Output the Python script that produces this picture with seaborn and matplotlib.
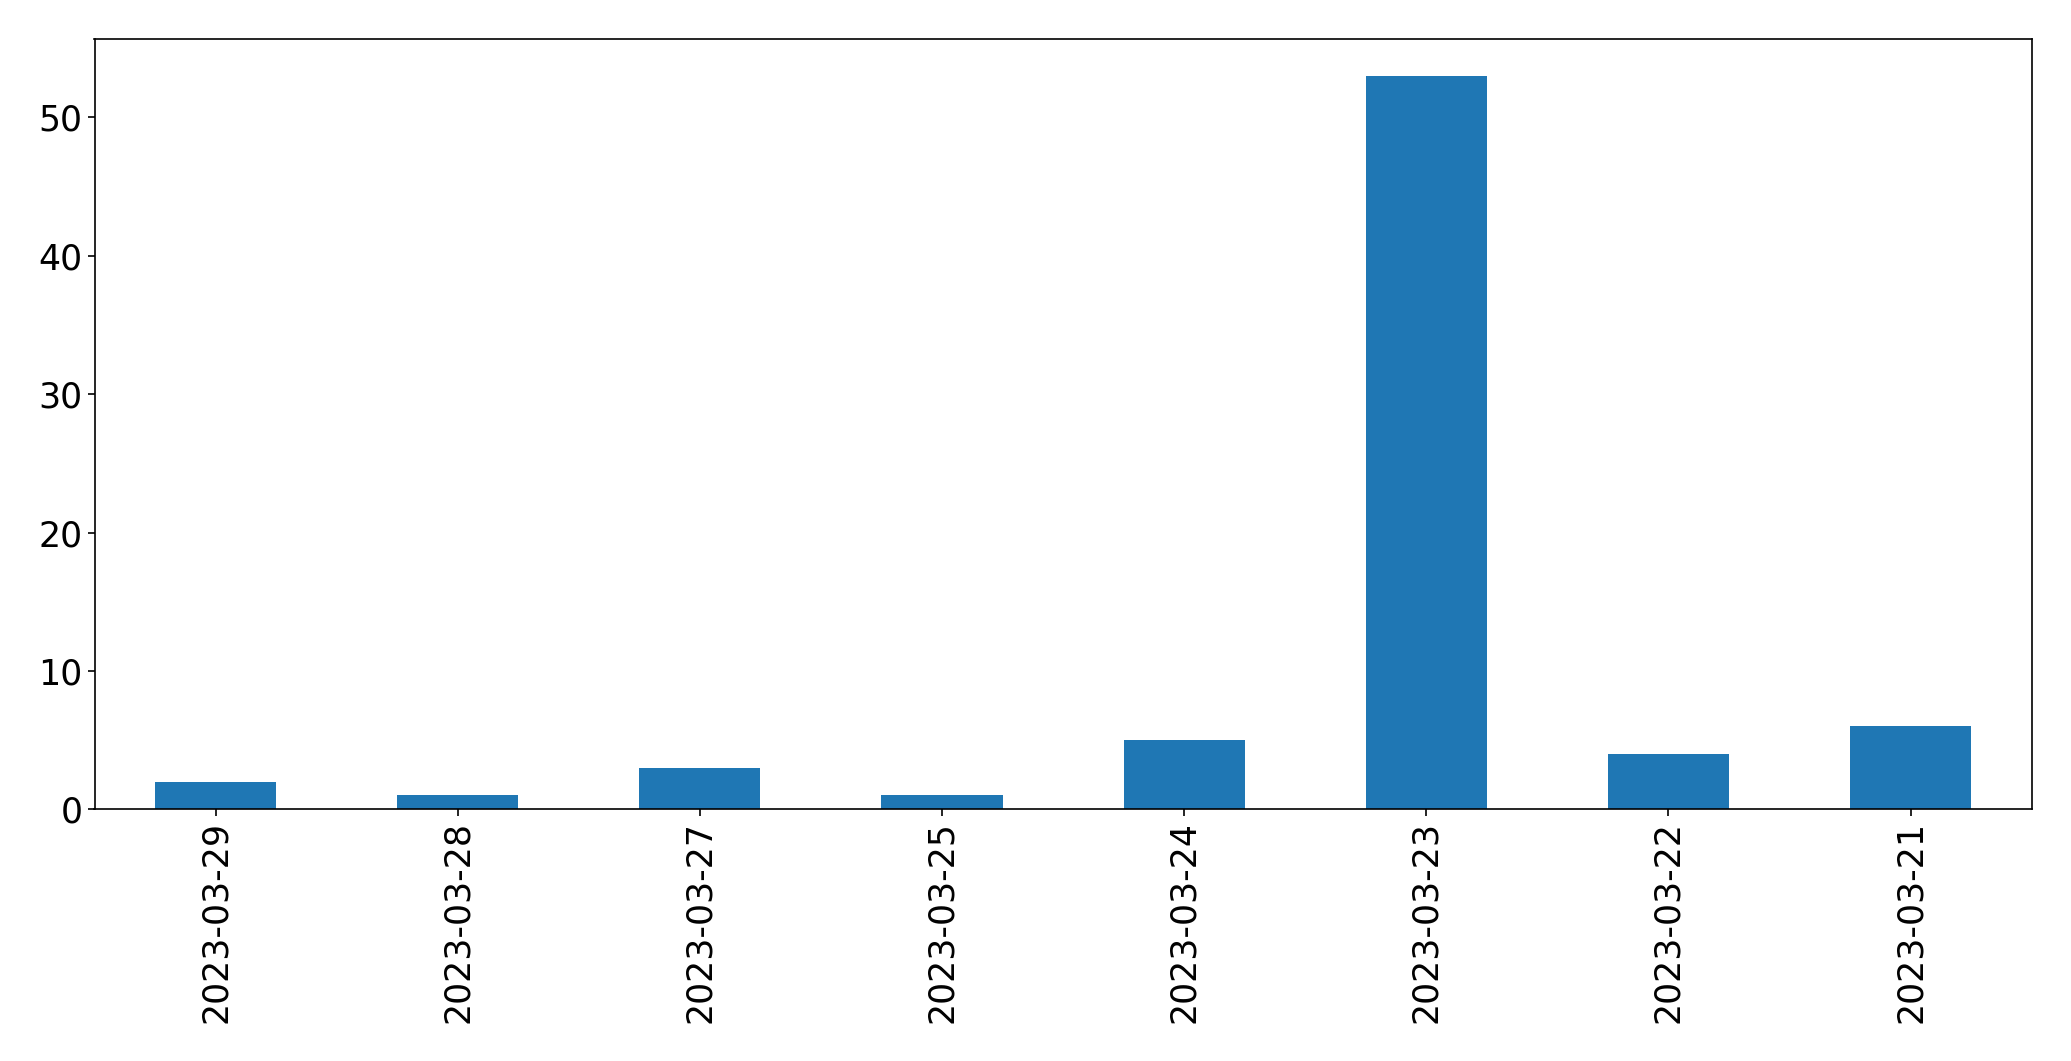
import matplotlib
matplotlib.use("Agg")
import matplotlib.pyplot as plt
import seaborn as sns
import pandas as pd

dates = ["2023-03-29", "2023-03-28", "2023-03-27", "2023-03-25",
         "2023-03-24", "2023-03-23", "2023-03-22", "2023-03-21"]
counts = [2, 1, 3, 1, 5, 53, 4, 6]

sns.set_style("white")
plt.rcParams['font.family'] = ['DejaVu Sans']

df = pd.DataFrame({"date": dates, "count": counts})

W, H = 2071, 1061
fig = plt.figure(figsize=(W / 100, H / 100), dpi=100)
ax = fig.add_axes([94.5 / W, 1 - 809.3 / H, (2031.7 - 94.5) / W, (809.3 - 39.3) / H])

sns.barplot(data=df, x="date", y="count", order=dates, color="#1f77b4",
            saturation=1, width=0.5, linewidth=0, ax=ax)

ax.set_xlim(-0.5, len(dates) - 0.5)
ax.set_ylim(0, max(counts) * 1.05)
ax.set_xlabel("")
ax.set_ylabel("")
ax.set_yticks([0, 10, 20, 30, 40, 50])
ax.tick_params(axis="both", labelsize=25, length=5, width=1.2, color="black",
               labelcolor="black", left=True, bottom=True)
plt.setp(ax.get_xticklabels(), rotation=90)
for s in ax.spines.values():
    s.set_visible(True)
    s.set_color("black")
    s.set_linewidth(1.2)

fig.savefig("out.png", dpi=100, facecolor="white")
